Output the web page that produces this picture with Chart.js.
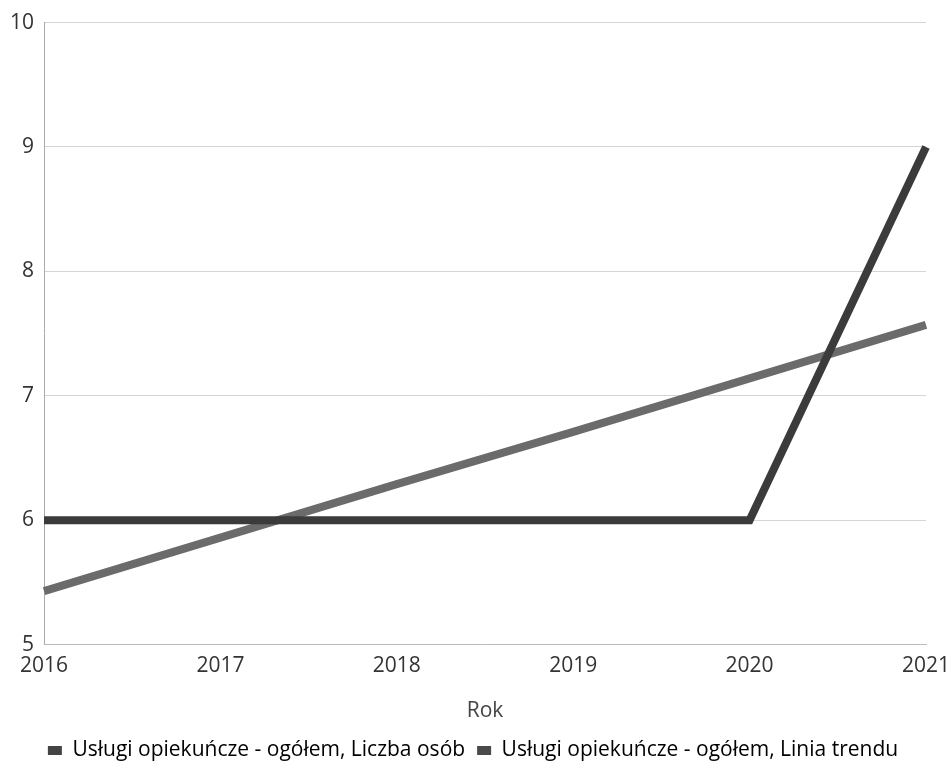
<!DOCTYPE html>
<html>
<head>
<meta charset="utf-8">
<script src="https://cdn.jsdelivr.net/npm/chart.js@4"></script>
<style>
  html, body { margin: 0; padding: 0; background: #fff; }
  #wrap { width: 948px; height: 771px; }
</style>
</head>
<body>
<div id="wrap"><canvas id="chart"></canvas></div>
<script>
const years = ['2016', '2017', '2018', '2019', '2020', '2021'];
const liczbaOsob = [6, 6, 6, 6, 6, 9];
const liniaTrendu = [5.43, 5.86, 6.29, 6.71, 7.14, 7.57];
const seriesNames = ['Usługi opiekuńcze - ogółem, Liczba osób', 'Usługi opiekuńcze - ogółem, Linia trendu'];

Chart.defaults.font.family = '"Open Sans", "Noto Sans", sans-serif';
Chart.defaults.color = '#333';

new Chart(document.getElementById('chart'), {
  type: 'line',
  data: {
    labels: years,
    datasets: [
      {
        label: seriesNames[0],
        data: liczbaOsob,
        borderColor: '#3b3b3b',
        backgroundColor: '#444',
        borderWidth: 8,
        pointRadius: 0,
        tension: 0,
        order: 1
      },
      {
        label: seriesNames[1],
        data: liniaTrendu,
        borderColor: '#6b6b6b',
        backgroundColor: '#4a4a4a',
        borderWidth: 8,
        pointRadius: 0,
        tension: 0,
        order: 2
      }
    ]
  },
  options: {
    responsive: true,
    maintainAspectRatio: false,
    animation: false,
    layout: { padding: { left: 0, right: 2, top: 6, bottom: 0 } },
    scales: {
      x: {
        offset: false,
        grid: { display: false, drawTicks: false },
        border: { color: '#bbb' },
        ticks: { padding: 9, font: { size: 21 }, color: '#333', maxRotation: 0 },
        title: { display: true, text: 'Rok', font: { size: 21 }, color: '#444', padding: { top: 11, bottom: 4 } },
        afterFit: (scale) => { scale.paddingRight = 22; scale.paddingLeft = 10; }
      },
      y: {
        min: 5,
        max: 10,
        ticks: { stepSize: 1, padding: 10, font: { size: 21 }, color: '#333' },
        grid: { color: '#d4d4d4', lineWidth: 1, drawTicks: false },
        border: { color: '#aaa' }
      }
    },
    plugins: {
      legend: {
        position: 'bottom',
        labels: {
          boxWidth: 14, boxHeight: 9, padding: 12, font: { size: 21 }, color: '#333',
          generateLabels: (chart) => chart.data.datasets.map((ds, i) => ({
            text: ds.label,
            fillStyle: ds.backgroundColor,
            strokeStyle: ds.backgroundColor,
            lineWidth: 0,
            hidden: false,
            datasetIndex: i
          }))
        }
      },
      tooltip: { enabled: false }
    }
  }
});
</script>
</body>
</html>
